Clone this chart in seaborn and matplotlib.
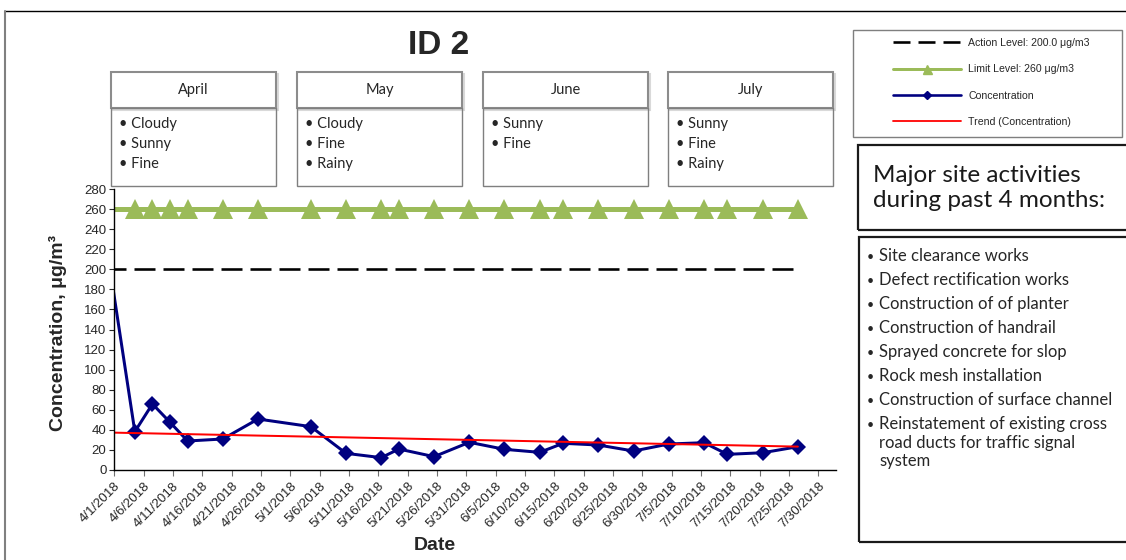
import pandas as pd
import seaborn as sns
import matplotlib.pyplot as plt
from matplotlib.patches import Rectangle
from matplotlib.lines import Line2D

W, H = 1126, 560

# sampling dates (the first one falls just before the axis start and is clipped)
dates = ['2018-03-30', '2018-04-04', '2018-04-07', '2018-04-10', '2018-04-13',
         '2018-04-19', '2018-04-25', '2018-05-04', '2018-05-10', '2018-05-16',
         '2018-05-19', '2018-05-25', '2018-05-31', '2018-06-06', '2018-06-12',
         '2018-06-16', '2018-06-22', '2018-06-28', '2018-07-04', '2018-07-10',
         '2018-07-14', '2018-07-20', '2018-07-26']
concentration = [230, 38.2, 65.8, 47.5, 28.9, 30.9, 50.8, 43.2, 16.6, 12.3, 20.9,
                 13.3, 27.6, 20.6, 17.6, 26.6, 24.9, 18.9, 25.9, 27.2, 15.6, 17.2, 23.2]
action_level = 200
limit_level = 260
trend_dates = ['2018-03-30', '2018-07-26']
trend_values = [37.4, 23.3]

months = ['April', 'May', 'June', 'July']
weather = [['Cloudy', 'Sunny', 'Fine'],
           ['Cloudy', 'Fine', 'Rainy'],
           ['Sunny', 'Fine'],
           ['Sunny', 'Fine', 'Rainy']]
activities = ['Site clearance works',
              'Defect rectification works',
              'Construction of of planter',
              'Construction of handrail',
              'Sprayed concrete for slop',
              'Rock mesh installation',
              'Construction of surface channel',
              'Reinstatement of existing cross\nroad ducts for traffic signal\nsystem']


def fx(x):
    return x / W


def fy(y):
    return 1 - y / H


def px(p):
    # pixels -> points
    return p * 0.72


sns.set_style('white')
plt.rcParams['font.family'] = ['Liberation Sans', 'DejaVu Sans']
plt.rcParams['lines.scale_dashes'] = False

# Excel puts each point in the middle of its day slot
df = pd.DataFrame({'date': pd.to_datetime(dates) + pd.Timedelta(hours=12),
                   'conc': concentration})
df['action'] = action_level
df['limit'] = limit_level
trend = pd.DataFrame({'date': pd.to_datetime(trend_dates) + pd.Timedelta(hours=12),
                      'value': trend_values})

fig = plt.figure(figsize=(W / 100, H / 100), dpi=100)
ax = fig.add_axes([fx(114.3), fy(470), (836 - 114.3) / W, 281 / H])

sns.lineplot(data=df, x='date', y='action', ax=ax, color='black', linewidth=px(2.6),
             estimator=None, sort=False, legend=False)
ax.lines[-1].set_dashes((px(21), px(8)))
sns.lineplot(data=df, x='date', y='limit', ax=ax, color='#9BBB59', linewidth=px(5),
             marker='^', markersize=px(20), markeredgecolor='#9BBB59', markeredgewidth=0,
             estimator=None, sort=False, legend=False)
sns.lineplot(data=df, x='date', y='conc', ax=ax, color='#000080', linewidth=px(3),
             marker='D', markersize=px(12), markeredgecolor='#000080', markeredgewidth=0,
             estimator=None, sort=False, legend=False)
sns.lineplot(data=trend, x='date', y='value', ax=ax, color='#FF0000', linewidth=px(2),
             estimator=None, sort=False, legend=False)

ax.set_xlim(pd.Timestamp('2018-04-01'), pd.Timestamp('2018-08-02'))
ax.set_ylim(0, 280)
ax.set_yticks(range(0, 281, 20))
ticks = pd.date_range('2018-04-01', '2018-07-30', freq='5D')
ax.set_xticks(ticks)
ax.set_xticklabels([f'{d.month}/{d.day}/{d.year}' for d in ticks], rotation=45,
                   ha='right', rotation_mode='anchor', fontsize=9.5)
ax.tick_params(axis='y', labelsize=9.5, length=px(5), width=0.8, direction='out', left=True, pad=2)
ax.tick_params(axis='x', length=px(6), width=0.8, color='#707070', direction='out', bottom=True, pad=3)
for s in ['top', 'right']:
    ax.spines[s].set_visible(False)
for s in ['left', 'bottom']:
    ax.spines[s].set_color('black')
    ax.spines[s].set_linewidth(1.0)

ax.set_ylabel('Concentration, μg/m³', fontsize=14, fontweight='bold', va='center')
ax.yaxis.set_label_coords((58 - 114.3) / (836 - 114.3), (470 - 333) / 281)
ax.set_xlabel('Date', fontsize=14, fontweight='bold', va='center')
ax.xaxis.set_label_coords((435 - 114.3) / (836 - 114.3), (470 - 546) / 281)

fig.text(fx(439), fy(46), 'ID 2', ha='center', va='center', fontsize=24, fontweight='bold')

# outer chart frame
fig.add_artist(Line2D([fx(5), 1], [fy(11), fy(11)], transform=fig.transFigure, color='black', lw=1))
fig.add_artist(Line2D([fx(5), fx(5)], [fy(11), 0], transform=fig.transFigure, color='#808080', lw=1.5))


def box(x0, y0, x1, y1, ec, lw, fc='none'):
    fig.add_artist(Rectangle((fx(x0), fy(y1)), (x1 - x0) / W, (y1 - y0) / H,
                             transform=fig.transFigure, facecolor=fc, edgecolor=ec, lw=lw))


# weather boxes for each month
box_left = [111, 297, 483, 668]
box_w = 165
for x0, month, items in zip(box_left, months, weather):
    box(x0 + 2, 74, x0 + box_w + 2, 110, '#d9d9d9', 1.5)
    box(x0, 72, x0 + box_w, 108, '#8c8c8c', 1.5, fc='white')
    box(x0, 108, x0 + box_w, 186, '#7f7f7f', 1.0)
    fig.text(fx(x0 + box_w / 2), fy(90), month, ha='center', va='center',
             fontsize=10.5, family='Lato', color='#262626')
    for i, item in enumerate(items):
        fig.text(fx(x0 + 8), fy(124 + 20 * i), '• ' + item, ha='left', va='center',
                 fontsize=10.5, family='Lato', color='#262626')

# legend
box(853, 30, 1122, 137, '#7f7f7f', 1.0)
handles = [Line2D([], [], color='black', lw=px(2.6), dashes=(px(17), px(8))),
           Line2D([], [], color='#9BBB59', lw=px(3), marker='^', ms=px(9), mec='#9BBB59'),
           Line2D([], [], color='#000080', lw=px(2.6), marker='D', ms=px(6), mec='#000080'),
           Line2D([], [], color='#FF0000', lw=px(1.8))]
labels = ['Action Level: 200.0 μg/m3', 'Limit Level: 260 μg/m3', 'Concentration',
          'Trend (Concentration)']
fig.legend(handles, labels, loc='upper left', bbox_to_anchor=(fx(893), fy(38)),
           frameon=False, fontsize=7.6, borderpad=0, borderaxespad=0, handlelength=6.4,
           handletextpad=0.75, labelspacing=1.55)

# site activities
box(858, 145, 1130, 230, '#1a1a1a', 1.6)
fig.text(fx(873), fy(188), 'Major site activities\nduring past 4 months:', ha='left',
         va='center', fontsize=17.5, family='Lato', color='#1a1a1a', linespacing=1.2)
box(859, 237, 1130, 542, '#1a1a1a', 1.6)
y = 257
for item in activities:
    fig.text(fx(867), fy(y), '•', ha='left', va='center', fontsize=9, family='Lato',
             color='#262626')
    fig.text(fx(879), fy(y - 9), item, ha='left', va='top',
             fontsize=12, family='Lato', color='#262626', linespacing=1.2)
    y += 24

fig.savefig('out.png', dpi=100)
